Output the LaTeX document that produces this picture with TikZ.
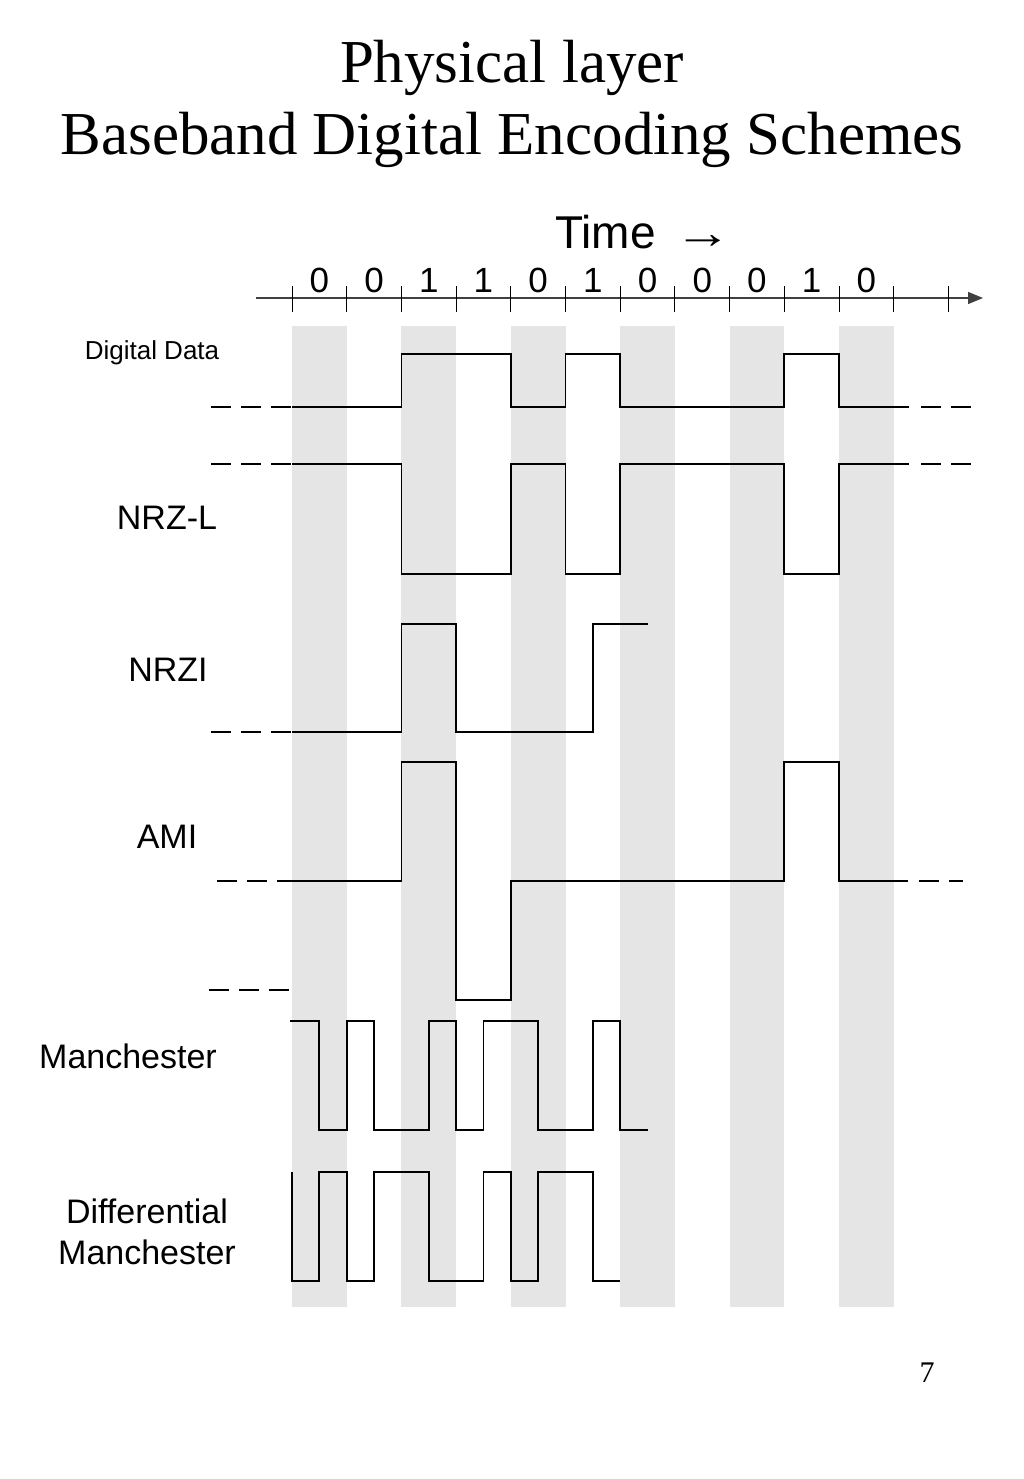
\documentclass[tikz,border=0pt]{standalone}
\usepackage{fontspec}
\setmainfont{Liberation Serif}
\setsansfont{Liberation Sans}
\usetikzlibrary{arrows.meta}
\begin{document}
\begin{tikzpicture}[x=1pt, y=-1pt,
	band/.style={fill=black!10, draw=none},
	wave/.style={line width=1.8pt, line join=miter},
	lead/.style={line width=1.8pt, dash pattern=on 20pt off 10pt},
	axis/.style={line width=1.4pt, draw=black!75, -{Triangle[length=15pt, width=12pt]}},
	tick/.style={line width=0.9pt},
	label/.style={font=\sffamily\fontsize{34}{41}\selectfont, align=center, inner sep=0pt},
	bit/.style={font=\sffamily\fontsize{35}{42}\selectfont, anchor=base, inner sep=0pt}]
	\useasboundingbox (0,0) rectangle (1024,1479);
	
	\node[font=\fontsize{61}{72}\selectfont, anchor=base, inner sep=0pt] (title1) at (512,83) {Physical layer};
	\node[font=\fontsize{61}{72}\selectfont, anchor=base, inner sep=0pt] (title2) at (512,155) {Baseband Digital Encoding Schemes};
	
	\node[font=\sffamily\fontsize{46}{54}\selectfont, anchor=base west, inner sep=0pt] (time) at (555,248) {Time\hspace{19pt}\scalebox{1.25}[1]{→}};
	
	\coordinate (axstart) at (256,298);
	\coordinate (axend) at (983,298);
	\draw[axis] (axstart) -- (axend);
	
	\node[label, anchor=base] (ldata) at (152,359) {\fontsize{26}{31}\selectfont Digital Data};
	\node[label, anchor=base] (lnrzl) at (167,529) {NRZ-L};
	\node[label, anchor=base] (lnrzi) at (168,681) {NRZI};
	\node[label, anchor=base] (lami) at (167,848) {AMI};
	\node[label, anchor=base] (lman) at (128,1068) {Manchester};
	\node[label] (ldiff) at (147,1232) {Differential\\Manchester};
	
	\node[font=\fontsize{30}{36}\selectfont, anchor=base, inner sep=0pt] (page) at (927,1382) {7};
	
	\begin{scope}[shift={(292pt,0pt)}, x=54.7pt]
		\foreach \k in {0,2,...,10}
			\fill[band] (\k,326) rectangle (\k+1,1307);
		\foreach \k in {0,...,12}
			\draw[tick] (\k,286) -- (\k,312);
		\foreach \b [count=\k from 0] in {0,0,1,1,0,1,0,0,0,1,0}
			\node[bit] (bit\k) at (\k+0.5,292) {\b};
		
		% digital data
		\draw[lead] (-1.48,407) -- (0,407);
		\draw[wave] (0,407) -- (2,407) -- (2,354) -- (4,354) -- (4,407) -- (5,407) -- (5,354) -- (6,354) -- (6,407) -- (9,407) -- (9,354) -- (10,354) -- (10,407) -- (11.28,407);
		\draw[lead] (11.5,407) -- (12.45,407);
		
		% NRZ-L
		\draw[lead] (-1.48,464) -- (0,464);
		\draw[wave] (0,464) -- (2,464) -- (2,574) -- (4,574) -- (4,464) -- (5,464) -- (5,574) -- (6,574) -- (6,464) -- (9,464) -- (9,574) -- (10,574) -- (10,464) -- (11.28,464);
		\draw[lead] (11.5,464) -- (12.45,464);
		
		% NRZI
		\draw[lead] (-1.48,732) -- (0,732);
		\draw[wave] (0,732) -- (2,732) -- (2,624) -- (3,624) -- (3,732) -- (5.5,732) -- (5.5,624) -- (6.5,624);
		
		% AMI
		\draw[lead] (-1.37,881) -- (0,881);
		\draw[wave] (0,881) -- (2,881) -- (2,762) -- (3,762) -- (3,1000) -- (4,1000) -- (4,881) -- (9,881) -- (9,762) -- (10,762) -- (10,881) -- (11.27,881);
		\draw[lead] (11.47,881) -- (12.27,881);
		\draw[lead] (-1.52,990) -- (-0.05,990);
		
		% Manchester
		\draw[wave] (-0.04,1021) -- (0.5,1021) -- (0.5,1130) -- (1,1130) -- (1,1021) -- (1.5,1021) -- (1.5,1130) -- (2.5,1130) -- (2.5,1021) -- (3,1021) -- (3,1130) -- (3.5,1130) -- (3.5,1021) -- (4.5,1021) -- (4.5,1130) -- (5.5,1130) -- (5.5,1021) -- (6,1021) -- (6,1130) -- (6.5,1130);
		
		% differential Manchester
		\draw[wave] (0,1172) -- (0,1281) -- (0.5,1281) -- (0.5,1172) -- (1,1172) -- (1,1281) -- (1.5,1281) -- (1.5,1172) -- (2.5,1172) -- (2.5,1281) -- (3.5,1281) -- (3.5,1172) -- (4,1172) -- (4,1281) -- (4.5,1281) -- (4.5,1172) -- (5.5,1172) -- (5.5,1281) -- (6,1281);
	\end{scope}
\end{tikzpicture}
\end{document}
